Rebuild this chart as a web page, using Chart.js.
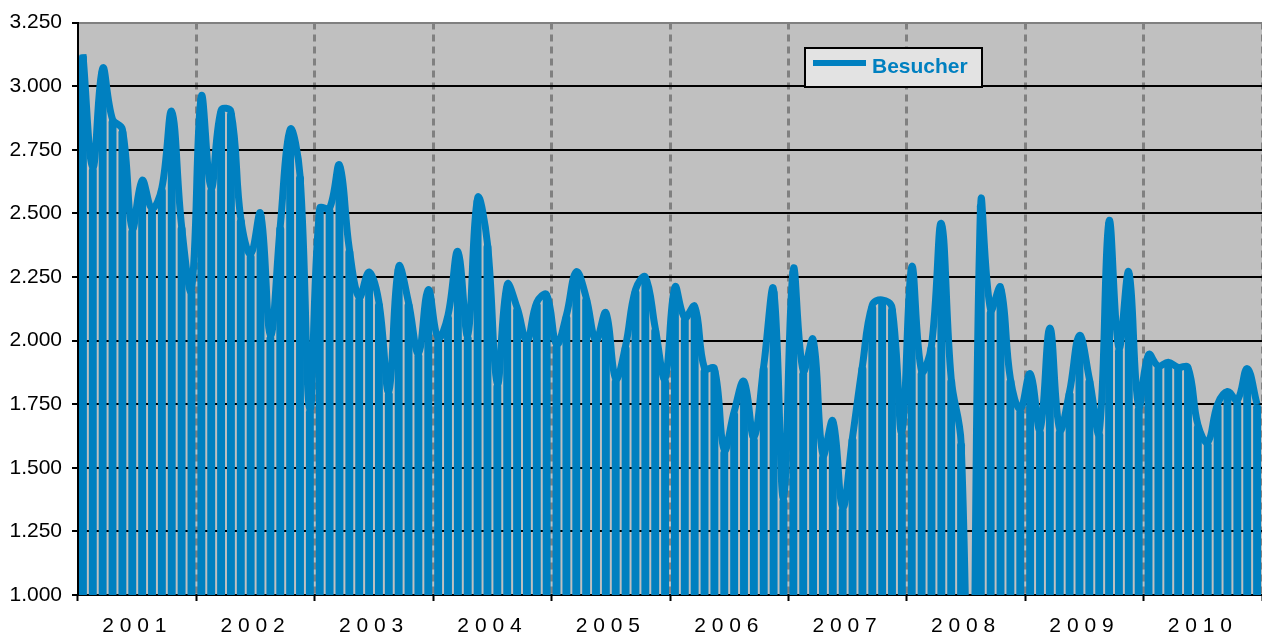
<!DOCTYPE html>
<html>
<head>
<meta charset="utf-8">
<script src="https://cdn.jsdelivr.net/npm/chart.js@4"></script>
<style>
  html, body { margin: 0; padding: 0; background: #fff; }
  #wrap { width: 1262px; height: 637px; }
</style>
</head>
<body>
<div id="wrap"><canvas id="chart"></canvas></div>
<script>
// ======== Daten ========
const years = ['2001', '2002', '2003', '2004', '2005', '2006', '2007', '2008', '2009', '2010'];
const months = ['Jan', 'Feb', 'Mär', 'Apr', 'Mai', 'Jun', 'Jul', 'Aug', 'Sep', 'Okt', 'Nov', 'Dez'];

const besucher2001 = [3125, 2680, 3070, 2870, 2830, 2440, 2630, 2520, 2600, 2900, 2450, 2200];
const besucher2002 = [2960, 2600, 2905, 2900, 2480, 2340, 2500, 2020, 2450, 2830, 2650, 1730];
const besucher2003 = [2520, 2520, 2690, 2360, 2170, 2270, 2150, 1800, 2290, 2150, 1950, 2200];
const besucher2004 = [2010, 2100, 2350, 2020, 2560, 2380, 1830, 2220, 2130, 2000, 2150, 2180];
const besucher2005 = [1985, 2100, 2270, 2170, 2000, 2110, 1850, 1980, 2200, 2250, 2050, 1850];
const besucher2006 = [2210, 2090, 2135, 1890, 1890, 1570, 1720, 1840, 1620, 1900, 2200, 1380];
const besucher2007 = [2280, 1880, 2005, 1550, 1685, 1345, 1620, 1900, 2140, 2160, 2130, 1640];
const besucher2008 = [2290, 1880, 1980, 2460, 1850, 1600, 0, 2540, 2120, 2210, 1850, 1730];
const besucher2009 = [1870, 1650, 2050, 1650, 1800, 2020, 1850, 1640, 2470, 1970, 2270, 1740];
const besucher2010 = [1945, 1900, 1915, 1895, 1895, 1670, 1600, 1750, 1800, 1765, 1890, 1750];

const yMin = 1000;
const yMax = 3250;
const yStep = 250;

// ======== Aufbereitung ========
const monthLabels = [];
years.forEach(y => months.forEach(m => monthLabels.push(m + ' ' + y)));

const besucher = [].concat(
  besucher2001, besucher2002, besucher2003, besucher2004, besucher2005,
  besucher2006, besucher2007, besucher2008, besucher2009, besucher2010
);

const blau = '#0080C0';
const schrift = 'Liberation Sans, Arial, sans-serif';

function tausender(v) {
  return String(v).replace(/\B(?=(\d{3})+(?!\d))/g, '.');
}

// ======== Legende im Diagramm ========
const legendBox = {
  id: 'legendBox',
  afterDraw(chart) {
    const ctx = chart.ctx;
    const label = chart.data.datasets[0].label;
    ctx.save();
    ctx.fillStyle = '#E3E3E3';
    ctx.fillRect(805, 48, 177, 39);
    ctx.strokeStyle = '#000';
    ctx.lineWidth = 2;
    ctx.strokeRect(805, 48, 177, 39);

    ctx.strokeStyle = blau;
    ctx.lineWidth = 6;
    ctx.beginPath();
    ctx.moveTo(813, 63);
    ctx.lineTo(866, 63);
    ctx.stroke();

    ctx.fillStyle = blau;
    ctx.font = 'bold 21px ' + schrift;
    ctx.textBaseline = 'middle';
    ctx.fillText(label, 872, 67);
    ctx.restore();
  }
};

// ======== Diagramm ========
new Chart(document.getElementById('chart'), {
  data: {
    labels: monthLabels,
    datasets: [
      {
        type: 'line',
        label: 'Besucher',
        data: besucher,
        xAxisID: 'x',
        borderColor: blau,
        borderWidth: 7,
        borderJoinStyle: 'round',
        pointRadius: 0,
        tension: 0.4,
        fill: false,
        clip: 0,
        order: 0
      },
      {
        type: 'bar',
        label: 'Besucher',
        data: besucher,
        xAxisID: 'x',
        backgroundColor: blau,
        barPercentage: 0.8,
        categoryPercentage: 1,
        borderRadius: 3,
        clip: 0,
        order: 1
      }
    ]
  },
  options: {
    responsive: true,
    maintainAspectRatio: false,
    animation: false,
    layout: { padding: { top: 20, right: 0, left: 0, bottom: 0 } },
    plugins: {
      legend: { display: false },
      tooltip: { enabled: false }
    },
    scales: {
      x: {
        type: 'category',
        offset: true,
        display: false
      },
      jahre: {
        type: 'category',
        axis: 'x',
        position: 'bottom',
        labels: years,
        offset: true,
        grid: {
          offset: true,
          color: c => (c.index === 0 || c.index === years.length) ? 'rgba(0,0,0,0)' : '#808080',
          lineWidth: 3,
          tickColor: '#000',
          tickWidth: 2,
          tickLength: 6
        },
        border: { display: true, color: '#000', width: 2, dash: [7, 5] },
        ticks: {
          color: '#000',
          font: { family: schrift, size: 21 },
          padding: 13,
          autoSkip: false,
          maxRotation: 0,
          callback: (v, i) => years[i].split('').join(' ') + ' '
        },
        afterFit: s => { s.height = 42; }
      },
      y: {
        type: 'linear',
        min: yMin,
        max: yMax,
        ticks: {
          stepSize: yStep,
          color: '#000',
          font: { family: schrift, size: 21 },
          padding: 10,
          callback: v => tausender(v)
        },
        grid: {
          color: c => (c.tick && c.tick.value === yMax) ? '#808080' : '#000',
          lineWidth: 2,
          tickColor: '#000',
          tickLength: 6
        },
        border: { color: '#000', width: 2 },
        afterFit: s => { s.width = 78; }
      }
    }
  },
  plugins: [legendBox,
    {
      id: 'hintergrund',
      beforeDraw(chart) {
        const a = chart.chartArea;
        const ctx = chart.ctx;
        ctx.save();
        ctx.fillStyle = '#C0C0C0';
        ctx.fillRect(a.left, a.top, a.right - a.left, a.bottom - a.top);
        ctx.restore();
      }
    }
  ]
});
</script>
</body>
</html>
